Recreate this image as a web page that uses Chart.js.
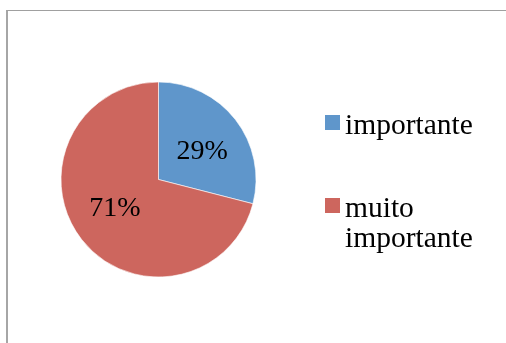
<!DOCTYPE html>
<html>
<head>
<meta charset="utf-8">
<script src="https://cdn.jsdelivr.net/npm/chart.js"></script>
<style>
  html, body { margin: 0; padding: 0; background: #fff; overflow: hidden; }
  #wrap { position: relative; width: 506px; height: 343px; }
  #frame {
    position: absolute; left: 6px; top: 10px; right: -10px; bottom: -10px;
    border-left: 2px solid #a6a6a6; border-top: 1px solid #a0a0a0;
  }
  #pie { position: absolute; left: 0; top: 0; }
  #legend { position: absolute; left: 325px; top: 0; }
  .item { position: absolute; left: 0; display: flex; align-items: flex-start; }
  .box { width: 15px; height: 15px; margin-top: 6px; flex: none; }
  .txt {
    margin-left: 5px; width: 150px;
    font: 29.5px/30px "Liberation Serif", serif; color: #000;
  }
</style>
</head>
<body>
<div id="wrap">
  <div id="frame"></div>
  <canvas id="pie" width="506" height="343"></canvas>
  <div id="legend"></div>
</div>
<script>
// respostas
const categorias = ['importante', 'muito importante'];
const valores = [29, 71];
const cores = ['#5f96cb', '#cd665e'];

const total = valores.reduce((a, b) => a + b, 0);
const rotulos = valores.map(v => Math.round(v / total * 100) + '%');

// rótulos de percentagem dentro de cada fatia
const percentLabels = {
  id: 'percentLabels',
  afterDatasetsDraw(chart) {
    const ctx = chart.ctx;
    const meta = chart.getDatasetMeta(0);
    ctx.save();
    ctx.font = '28px "Liberation Serif"';
    ctx.fillStyle = '#000';
    ctx.textAlign = 'center';
    ctx.textBaseline = 'middle';
    meta.data.forEach((arc, i) => {
      const p = arc.getProps(['x', 'y', 'startAngle', 'endAngle', 'outerRadius'], true);
      // um pouco à frente do meio da fatia, no sentido horário
      const mid = (p.startAngle + p.endAngle) / 2 + 0.08;
      const r = p.outerRadius * 0.535;
      ctx.fillText(rotulos[i], p.x + Math.cos(mid) * r, p.y + Math.sin(mid) * r + 1);
    });
    ctx.restore();
  }
};

const chart = new Chart(document.getElementById('pie').getContext('2d'), {
  type: 'pie',
  data: {
    labels: categorias,
    datasets: [{
      data: valores,
      backgroundColor: cores,
      borderColor: 'rgba(255,255,255,0.6)',
      borderWidth: 1
    }]
  },
  options: {
    responsive: false,
    animation: false,
    radius: 97.5,
    layout: { padding: { left: 0, right: 189, top: 16, bottom: 0 } },
    plugins: {
      legend: { display: false },
      tooltip: { enabled: false }
    }
  },
  plugins: [percentLabels]
});

// legenda em HTML
const legendDiv = document.getElementById('legend');
const itemTops = [109, 192];
chart.options.plugins.legend.labels.generateLabels(chart).forEach((item, i) => {
  const el = document.createElement('div');
  el.className = 'item';
  el.style.top = itemTops[i] + 'px';
  el.innerHTML = `<div class="box" style="background:${item.fillStyle}"></div><div class="txt">${item.text}</div>`;
  legendDiv.appendChild(el);
});
</script>
</body>
</html>
